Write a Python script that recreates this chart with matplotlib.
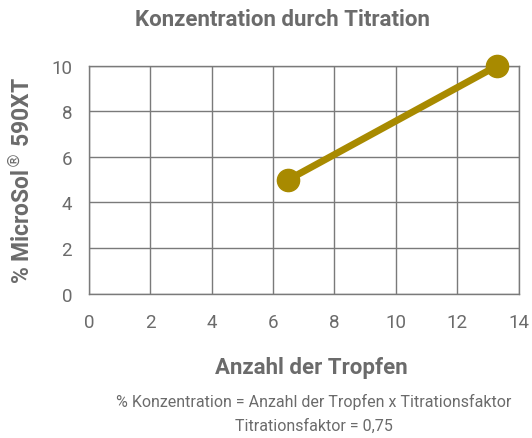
import matplotlib
matplotlib.use('Agg')
import matplotlib.pyplot as plt

drops = [6.5, 13.3]
concentration = [5, 10]
x_ticks = [0, 2, 4, 6, 8, 10, 12, 14]
y_ticks = [0, 2, 4, 6, 8, 10]

plt.rcParams['font.family'] = ['Roboto', 'DejaVu Sans']

gray = '#6b6b6b'
gold = '#a88a00'

fig = plt.figure(figsize=(5.32, 4.39), dpi=100)
ax = fig.add_axes([0.167, 0.329, 0.808, 0.519])
ax.plot(drops, concentration, color=gold, lw=5, marker='o', ms=16,
        solid_capstyle='round', zorder=3, clip_on=False)

ax.set_xlim(0, 14)
ax.set_ylim(0, 10)
ax.set_xticks(x_ticks)
ax.set_yticks(y_ticks)
ax.grid(True, color='#7a7a7a', lw=1)
ax.set_axisbelow(True)
for s in ax.spines.values():
    s.set_color('#7a7a7a')
    s.set_linewidth(1)
ax.tick_params(length=0, labelsize=13.5, colors=gray, pad=12)
ax.tick_params(axis='x', pad=14)

fig.text(0.53, 0.955, 'Konzentration durch Titration', ha='center', va='center',
         fontsize=16, fontweight='bold', color=gray)
fig.text(0.042, 0.59, '% MicroSol$^{®}$ 590XT', rotation=90, ha='center',
         va='center', fontsize=16.5, fontweight='bold', color=gray)
fig.text(0.585, 0.162, 'Anzahl der Tropfen', ha='center', va='center',
         fontsize=16, fontweight='bold', color=gray)
fig.text(0.59, 0.085, '% Konzentration = Anzahl der Tropfen x Titrationsfaktor',
         ha='center', va='center', fontsize=11.5, color=gray)
fig.text(0.59, 0.03, 'Titrationsfaktor = 0,75', ha='center', va='center',
         fontsize=11.5, color=gray)

fig.savefig('out.png', dpi=100)
